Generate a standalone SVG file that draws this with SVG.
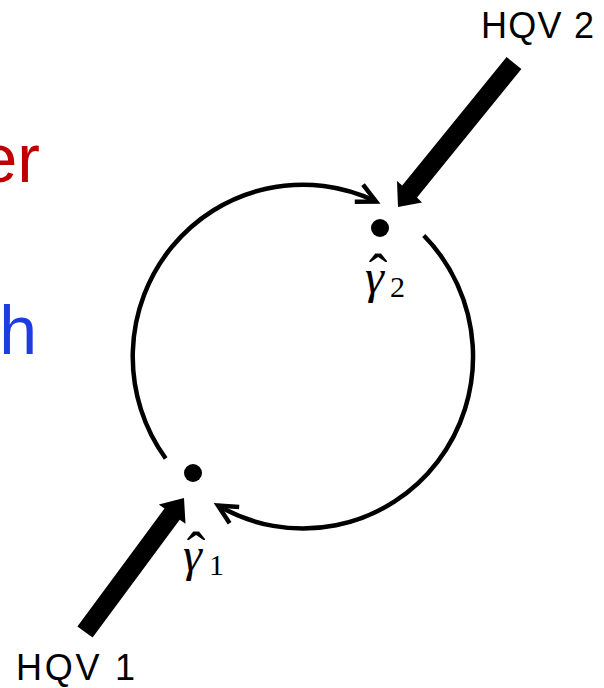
<svg xmlns="http://www.w3.org/2000/svg" width="604" height="688" viewBox="0 0 604 688">
<style>
.lbl{font-family:"Liberation Sans",Arial,sans-serif;fill:#000}
.big{font-family:"Liberation Sans",Arial,sans-serif;font-size:68px}
.g{font-family:"Liberation Serif","DejaVu Serif",serif;font-style:italic;font-size:48px;fill:#000}
.hat{font-style:normal;font-size:56px}
.sub{font-style:normal;font-size:30px}
.arc{fill:none;stroke:#000;stroke-width:4.5}
.thick{fill:#000;stroke:none}
</style>
<defs>
<marker id="open" markerUnits="userSpaceOnUse" markerWidth="40" markerHeight="40" viewBox="-25 -20 30 40" refX="0" refY="0" orient="auto">
<path d="M -19 -9.5 L 0 0 L -19 9.5" fill="none" stroke="#000" stroke-width="4.5" stroke-linejoin="miter"/>
</marker>
</defs>
<g id="partial-text">
<text class="big" x="40" y="182" text-anchor="end" fill="#C00000">er</text>
<text class="big" x="37" y="354" text-anchor="end" fill="#1F3CE0">h</text>
</g>
<g id="connectors">
<path class="arc" d="M 165.7 458.5 A 170 172 0 0 1 376 201.5" marker-end="url(#open)"/>
<path class="arc" d="M 423.8 235.5 A 170 172 0 0 1 218 505.5" marker-end="url(#open)"/>
<polygon id="arrow-hqv1" class="thick" points="77.4,626.4 92.6,637.6 179.7,519.7 185.5,523.8 184,498 158.8,504.4 164.5,508.5"/>
<polygon id="arrow-hqv2" class="thick" points="506.6,57 521.4,69 417,197.5 422,202.5 398,207 397,181 402.2,185.5"/>
</g>
<g id="node-gamma2">
<circle cx="380" cy="228" r="9" fill="#000"/>
<text class="g" x="365" y="293">γ<tspan class="hat" x="378" y="293" text-anchor="middle">ˆ</tspan><tspan class="sub" x="390" y="297" text-anchor="start">2</tspan></text>
</g>
<g id="node-gamma1">
<circle cx="193" cy="473" r="9" fill="#000"/>
<text class="g" x="183" y="571">γ<tspan class="hat" x="196" y="571" text-anchor="middle">ˆ</tspan><tspan class="sub" x="209" y="575" text-anchor="start">1</tspan></text>
</g>
<g id="node-hqv2">
<text class="lbl" x="481" y="38" font-size="36" textLength="113">HQV 2</text>
</g>
<g id="node-hqv1">
<text class="lbl" x="16" y="680" font-size="36" textLength="119">HQV 1</text>
</g>
</svg>
